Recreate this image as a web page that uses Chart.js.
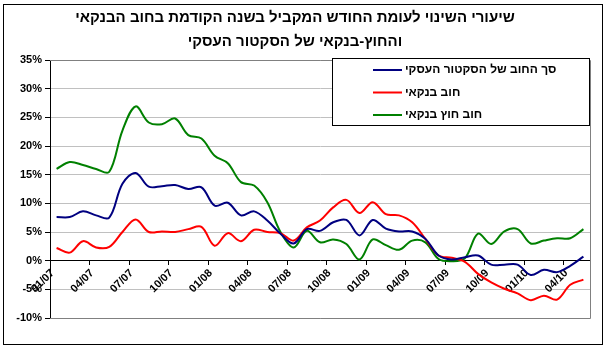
<!DOCTYPE html>
<html>
<head>
<meta charset="utf-8">
<script src="https://cdn.jsdelivr.net/npm/chart.js@4.4.1/dist/chart.umd.min.js"></script>
<style>
  html, body { margin: 0; padding: 0; background: #fff; }
  #wrap { width: 613px; height: 353px; }
</style>
</head>
<body>
<div id="wrap"><canvas id="chart"></canvas></div>
<script>
// months 01/07 .. 05/10
const months = [
  "01/07", "02/07", "03/07", "04/07", "05/07", "06/07", "07/07", "08/07", "09/07", "10/07", "11/07", "12/07",
  "01/08", "02/08", "03/08", "04/08", "05/08", "06/08", "07/08", "08/08", "09/08", "10/08", "11/08", "12/08",
  "01/09", "02/09", "03/09", "04/09", "05/09", "06/09", "07/09", "08/09", "09/09", "10/09", "11/09", "12/09",
  "01/10", "02/10", "03/10", "04/10", "05/10"
];

const seriesNames = ["סך החוב של הסקטור העסקי", "חוב בנקאי", "חוב חוץ בנקאי"];
const seriesColors = ["#000080", "#ff0000", "#008000"];

// סך החוב של הסקטור העסקי
const totalDebt = [
  7.6, 7.6, 8.6, 7.9, 7.5, 13.4, 15.3, 12.9, 13.0, 13.2, 12.5, 12.8,
  9.6, 10.1, 7.9, 8.6, 7.0, 4.7, 3.0, 5.5, 5.2, 6.7, 7.1, 4.4,
  7.1, 5.6, 5.1, 5.1, 3.8, 0.9, 0.2, 0.6, 0.9, -0.7, -0.7, -0.7,
  -2.5, -1.6, -2.0, -0.9, 0.7
];
// חוב בנקאי
const bankDebt = [
  2.2, 1.4, 3.4, 2.3, 2.4, 5.0, 7.2, 5.0, 5.1, 5.0, 5.5, 5.9,
  2.6, 4.8, 3.4, 5.4, 5.0, 4.8, 3.5, 5.8, 7.0, 9.3, 10.6, 8.3,
  10.2, 8.1, 7.9, 6.7, 3.8, 0.9, 0.5, -0.2, -2.3, -3.8, -4.9, -5.7,
  -6.9, -6.1, -6.8, -4.2, -3.3
];
// חוב חוץ בנקאי
const nonBankDebt = [
  16.0, 17.2, 16.7, 16.0, 15.5, 22.7, 26.9, 24.1, 23.8, 24.8, 21.9, 21.3,
  18.3, 17.0, 13.7, 13.1, 10.2, 5.0, 2.3, 5.2, 3.2, 3.7, 2.9, 0.2,
  3.7, 2.7, 1.9, 3.5, 3.2, 0.3, -0.1, 0.4, 4.7, 2.9, 5.1, 5.5,
  3.0, 3.5, 3.9, 3.9, 5.5
];

const titleLines = [
  "שיעורי השינוי לעומת החודש המקביל בשנה הקודמת בחוב הבנקאי",
  "והחוץ-בנקאי של הסקטור העסקי"
];

const yMin = -10, yMax = 35, yStep = 5;

const FONT = '"Liberation Sans", Arial, sans-serif';

// מסגרת חיצונית ורקע
const frame = {
  id: "frame",
  beforeDraw(chart) {
    const ctx = chart.ctx;
    ctx.save();
    ctx.fillStyle = "#fff";
    ctx.fillRect(0, 0, chart.width, chart.height);
    ctx.strokeStyle = "#000";
    ctx.lineWidth = 1;
    ctx.strokeRect(3.5, 4.5, 599, 340);
    ctx.restore();
  },
  beforeDatasetsDraw(chart) {
    // גבול אזור השרטוט (עליון, ימני, תחתון) באפור
    const { ctx, chartArea: a } = chart;
    ctx.save();
    ctx.strokeStyle = "#808080";
    ctx.lineWidth = 1;
    ctx.beginPath();
    ctx.moveTo(a.left, Math.round(a.top) + 0.5);
    ctx.lineTo(Math.round(a.right) + 0.5, Math.round(a.top) + 0.5);
    ctx.lineTo(Math.round(a.right) + 0.5, Math.round(a.bottom) + 0.5);
    ctx.lineTo(a.left, Math.round(a.bottom) + 0.5);
    ctx.stroke();
    ctx.restore();
  }
};

// מקרא בתוך אזור השרטוט
const legendBox = {
  id: "legendBox",
  afterDraw(chart) {
    const ctx = chart.ctx;
    ctx.save();
    ctx.fillStyle = "#fff";
    ctx.fillRect(332.5, 58.5, 257, 67);
    ctx.strokeStyle = "#000";
    ctx.lineWidth = 1;
    ctx.strokeRect(332.5, 58.5, 257, 67);
    ctx.font = "bold 12px " + FONT;
    ctx.textBaseline = "middle";
    ctx.textAlign = "left";
    chart.data.datasets.forEach((ds, i) => {
      const y = 70 + i * 22.5;
      ctx.strokeStyle = ds.borderColor;
      ctx.lineWidth = 2;
      ctx.beginPath();
      ctx.moveTo(373, y);
      ctx.lineTo(402, y);
      ctx.stroke();
      ctx.fillStyle = "#000";
      ctx.fillText(ds.label, 405, y);
    });
    ctx.restore();
  }
};

const seriesData = [totalDebt, bankDebt, nonBankDebt];

new Chart(document.getElementById("chart"), {
  type: "line",
  data: {
    labels: months,
    datasets: seriesData.map((d, i) => ({
      label: seriesNames[i],
      data: d,
      borderColor: seriesColors[i],
      backgroundColor: seriesColors[i],
      borderWidth: 2,
      pointRadius: 0,
      tension: 0.35,
      fill: false
    }))
  },
  options: {
    responsive: true,
    maintainAspectRatio: false,
    animation: false,
    layout: { padding: { left: 0, right: 23, top: 0, bottom: 35 } },
    plugins: {
      legend: { display: false },
      tooltip: { enabled: false },
      title: {
        display: true,
        text: titleLines,
        color: "#000",
        font: { family: FONT, size: 15, weight: "bold", lineHeight: 1.6 },
        padding: { top: 6, bottom: 6 }
      }
    },
    scales: {
      x: {
        type: "category",
        position: { y: 0 },
        offset: true,
        afterFit: (s) => { s.height = 0; },
        grid: {
          offset: true,
          drawOnChartArea: false,
          tickLength: 4,
          color: (c) => (c.index % 3 === 0 ? "#000" : "rgba(0,0,0,0)")
        },
        border: { color: "#000", width: 1 },
        ticks: {
          autoSkip: false,
          minRotation: 45,
          maxRotation: 45,
          labelOffset: -4,
          padding: 2,
          color: "#000",
          font: { family: FONT, size: 11, weight: "bold" },
          callback: (v, i) => (i % 3 === 0 ? months[i] : "")
        }
      },
      y: {
        min: yMin,
        max: yMax,
        afterFit: (s) => { s.width = 50; },
        grid: { color: "#c0c0c0", tickColor: "#000", tickLength: 5 },
        border: { color: "#000", width: 1 },
        ticks: {
          stepSize: yStep,
          padding: 3,
          color: "#000",
          font: { family: FONT, size: 11, weight: "bold" },
          callback: (v) => v + "%"
        }
      }
    }
  },
  plugins: [frame, legendBox]
});
</script>
</body>
</html>
